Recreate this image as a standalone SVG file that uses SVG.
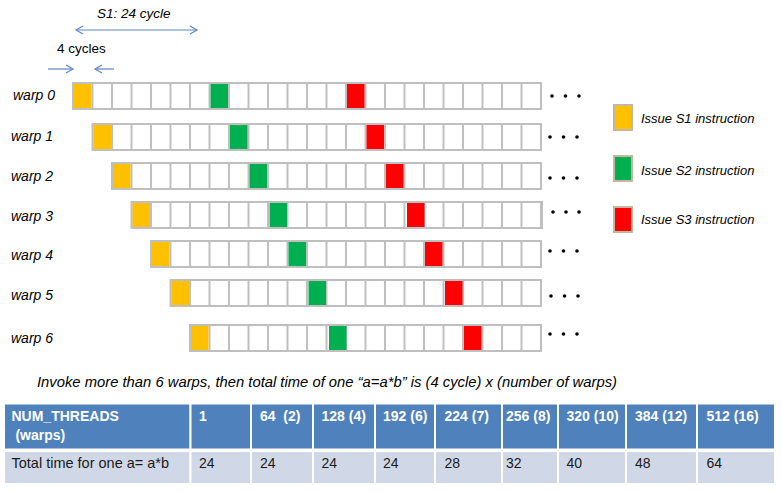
<svg xmlns="http://www.w3.org/2000/svg" width="782" height="493" viewBox="0 0 782 493">
<style>
  .lbl{font-family:"Liberation Sans",Arial,sans-serif;font-style:italic;font-size:14px;fill:#000}
  .leg{font-family:"Liberation Sans",Arial,sans-serif;font-style:italic;font-size:13px;fill:#000}
  .row{fill:url(#grid);stroke:#bfbfbf;stroke-width:2}
  .s1{fill:#ffc000}
  .s2{fill:#00b050}
  .s3{fill:#ff0000}
  .legbox{stroke:#c4b7a0;stroke-width:2}
  .dot{fill:#000}
  .arr{stroke:#5b87c5;stroke-width:1.2;fill:none}
  .th{fill:#4f81bd;stroke:#fff;stroke-width:2}
  .td{fill:#d0d8e8;stroke:#fff;stroke-width:2}
  .tht{font-family:"Liberation Sans",Arial,sans-serif;font-weight:bold;font-size:14px;fill:#fff;white-space:pre}
  .tdt{font-family:"Liberation Sans",Arial,sans-serif;font-size:14px;fill:#1a1a1a}
  .txt{font-family:"Liberation Sans",Arial,sans-serif;font-size:14px;fill:#000}
</style>
<defs>
  <pattern id="grid" patternUnits="userSpaceOnUse" x="63.25" y="0" width="19.5" height="493">
    <rect x="0" y="0" width="19.5" height="493" fill="#fff"/>
    <rect x="8.75" y="0" width="2" height="493" fill="#bfbfbf"/>
  </pattern>
  <marker id="ah" markerWidth="10" markerHeight="10" refX="8" refY="5" orient="auto-start-reverse" markerUnits="userSpaceOnUse">
    <path d="M1,1 L8,5 L1,9" fill="none" stroke="#5b87c5" stroke-width="1.2"/>
  </marker>
</defs>
<rect width="782" height="493" fill="#fff"/>

<g id="connectors">
  <line class="arr" x1="76" y1="30" x2="197" y2="30" marker-start="url(#ah)" marker-end="url(#ah)"/>
  <line class="arr" x1="48" y1="69" x2="73" y2="69" marker-end="url(#ah)"/>
  <line class="arr" x1="114" y1="69" x2="95" y2="69" marker-end="url(#ah)"/>
</g>
<g id="annotations">
  <text class="lbl" x="97" y="18" style="font-size:13.5px">S1: 24 cycle</text>
  <text class="txt" x="57" y="53" style="font-size:13.5px">4 cycles</text>
</g>

<g id="warp0">
  <text class="lbl" x="13" y="100">warp 0</text>
  <rect class="row" x="73" y="83" width="468" height="26"/>
  <rect class="s1" x="74" y="84" width="17.5" height="24"/>
  <rect class="s2" x="210.5" y="84" width="17.5" height="24"/>
  <rect class="s3" x="347" y="84" width="17.5" height="24"/>
  <circle class="dot" cx="552" cy="96" r="1.8"/><circle class="dot" cx="565.5" cy="96" r="1.8"/><circle class="dot" cx="579" cy="96" r="1.8"/>
</g>
<g id="warp1">
  <text class="lbl" x="11" y="141">warp 1</text>
  <rect class="row" x="92.5" y="124" width="448.5" height="26"/>
  <rect class="s1" x="93.5" y="125" width="17.5" height="24"/>
  <rect class="s2" x="230" y="125" width="17.5" height="24"/>
  <rect class="s3" x="366.5" y="125" width="17.5" height="24"/>
  <circle class="dot" cx="550" cy="137" r="1.8"/><circle class="dot" cx="563.5" cy="137" r="1.8"/><circle class="dot" cx="577" cy="137" r="1.8"/>
</g>
<g id="warp2">
  <text class="lbl" x="11" y="181">warp 2</text>
  <rect class="row" x="112" y="163" width="429" height="26"/>
  <rect class="s1" x="113" y="164" width="17.5" height="24"/>
  <rect class="s2" x="249.5" y="164" width="17.5" height="24"/>
  <rect class="s3" x="386" y="164" width="17.5" height="24"/>
  <circle class="dot" cx="550" cy="178" r="1.8"/><circle class="dot" cx="563.5" cy="178" r="1.8"/><circle class="dot" cx="577" cy="178" r="1.8"/>
</g>
<g id="warp3">
  <text class="lbl" x="11" y="221">warp 3</text>
  <rect class="row" x="131.5" y="202" width="410.5" height="26"/>
  <rect class="s1" x="132.5" y="203" width="17.5" height="24"/>
  <rect class="s2" x="269.5" y="203" width="17.5" height="24"/>
  <rect class="s3" x="407" y="203" width="17.5" height="24"/>
  <circle class="dot" cx="553" cy="212" r="1.8"/><circle class="dot" cx="566" cy="212" r="1.8"/><circle class="dot" cx="579" cy="212" r="1.8"/>
</g>
<g id="warp4">
  <text class="lbl" x="11" y="260">warp 4</text>
  <rect class="row" x="151" y="241" width="390" height="26"/>
  <rect class="s1" x="152" y="242" width="17.5" height="24"/>
  <rect class="s2" x="288.5" y="242" width="17.5" height="24"/>
  <rect class="s3" x="425" y="242" width="17.5" height="24"/>
  <circle class="dot" cx="550" cy="251" r="1.8"/><circle class="dot" cx="563.5" cy="251" r="1.8"/><circle class="dot" cx="577" cy="251" r="1.8"/>
</g>
<g id="warp5">
  <text class="lbl" x="11" y="300">warp 5</text>
  <rect class="row" x="170.5" y="280" width="370.5" height="26"/>
  <rect class="s1" x="171.5" y="281" width="17.5" height="24"/>
  <rect class="s2" x="308.5" y="281" width="17.5" height="24"/>
  <rect class="s3" x="445" y="281" width="17.5" height="24"/>
  <circle class="dot" cx="551" cy="296" r="1.8"/><circle class="dot" cx="564.5" cy="296" r="1.8"/><circle class="dot" cx="578" cy="296" r="1.8"/>
</g>
<g id="warp6">
  <text class="lbl" x="11" y="343">warp 6</text>
  <rect class="row" x="190" y="325" width="351" height="26"/>
  <rect class="s1" x="191" y="326" width="17.5" height="24"/>
  <rect class="s2" x="329" y="326" width="17.5" height="24"/>
  <rect class="s3" x="464" y="326" width="17.5" height="24"/>
  <circle class="dot" cx="550" cy="334" r="1.8"/><circle class="dot" cx="563.5" cy="334" r="1.8"/><circle class="dot" cx="577" cy="334" r="1.8"/>
</g>

<g id="legend">
  <rect class="s1 legbox" x="614" y="105" width="18" height="25"/>
  <text class="leg" x="641" y="123">Issue S1 instruction</text>
  <rect class="s2 legbox" x="614" y="156" width="18" height="25"/>
  <text class="leg" x="641" y="175">Issue S2 instruction</text>
  <rect class="s3 legbox" x="614" y="207" width="18" height="25"/>
  <text class="leg" x="641" y="224">Issue S3 instruction</text>
</g>

<g id="caption">
  <text class="lbl" x="37" y="387" textLength="580" lengthAdjust="spacingAndGlyphs">Invoke more than 6 warps, then total time of one “a=a*b” is (4 cycle) x (number of warps)</text>
</g>

<g id="table">
  <rect class="th" x="4" y="403.5" width="186.5" height="46"/>
  <rect class="th" x="190.5" y="403.5" width="60.5" height="46"/>
  <rect class="th" x="251" y="403.5" width="62" height="46"/>
  <rect class="th" x="313" y="403.5" width="62" height="46"/>
  <rect class="th" x="375" y="403.5" width="60" height="46"/>
  <rect class="th" x="435" y="403.5" width="67" height="46"/>
  <rect class="th" x="502" y="403.5" width="56" height="46"/>
  <rect class="th" x="558" y="403.5" width="68" height="46"/>
  <rect class="th" x="626" y="403.5" width="71" height="46"/>
  <rect class="th" x="697" y="403.5" width="78" height="46"/>
  <rect class="td" x="4" y="451" width="186.5" height="33"/>
  <rect class="td" x="190.5" y="451" width="60.5" height="33"/>
  <rect class="td" x="251" y="451" width="62" height="33"/>
  <rect class="td" x="313" y="451" width="62" height="33"/>
  <rect class="td" x="375" y="451" width="60" height="33"/>
  <rect class="td" x="435" y="451" width="67" height="33"/>
  <rect class="td" x="502" y="451" width="56" height="33"/>
  <rect class="td" x="558" y="451" width="68" height="33"/>
  <rect class="td" x="626" y="451" width="71" height="33"/>
  <rect class="td" x="697" y="451" width="78" height="33"/>
  <text class="tht" x="11.5" y="421">NUM_THREADS</text>
  <text class="tht" x="11.5" y="440"> (warps)</text>
  <text class="tht" x="199" y="421">1</text>
  <text class="tht" x="260" y="421">64  (2)</text>
  <text class="tht" x="321.5" y="421">128 (4)</text>
  <text class="tht" x="383" y="421">192 (6)</text>
  <text class="tht" x="444.5" y="421">224 (7)</text>
  <text class="tht" x="506" y="421">256 (8)</text>
  <text class="tht" x="566.5" y="421">320 (10)</text>
  <text class="tht" x="635" y="421">384 (12)</text>
  <text class="tht" x="706.5" y="421">512 (16)</text>
  <text class="tdt" x="11.5" y="468" style="font-size:14.5px">Total time for one a= a*b</text>
  <text class="tdt" x="199" y="468">24</text>
  <text class="tdt" x="260" y="468">24</text>
  <text class="tdt" x="321.5" y="468">24</text>
  <text class="tdt" x="383" y="468">24</text>
  <text class="tdt" x="444.5" y="468">28</text>
  <text class="tdt" x="506" y="468">32</text>
  <text class="tdt" x="566.5" y="468">40</text>
  <text class="tdt" x="635" y="468">48</text>
  <text class="tdt" x="706.5" y="468">64</text>
</g>
</svg>
